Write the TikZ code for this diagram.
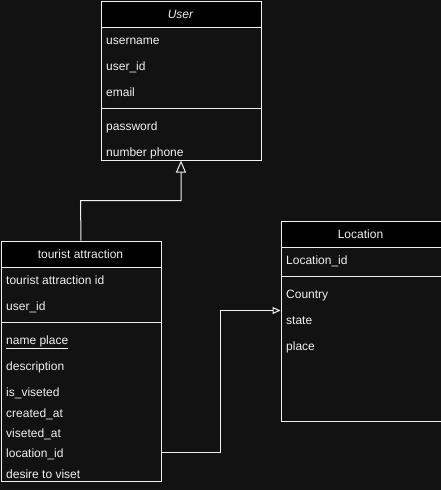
\documentclass[tikz,border=0pt]{standalone}
\usepackage{fontspec}
\setmainfont{Liberation Sans}
\usetikzlibrary{arrows.meta}
\definecolor{bg}{HTML}{121212}
\definecolor{fg}{HTML}{F0F0F0}
\begin{document}
\begin{tikzpicture}[x=1pt,y=-1pt,
  every node/.style={font=\fontsize{12}{14}\selectfont, text=fg, inner sep=0pt},
  box/.style={draw=fg, line width=1pt, fill=bg, rectangle, anchor=north west, minimum width=160pt},
  head/.style={draw=fg, line width=1pt, fill=black, rectangle, anchor=north west, minimum width=160pt, minimum height=26pt},
  htext/.style={anchor=base},
  item/.style={anchor=base west},
  sep/.style={draw=fg, line width=1pt},
  conn/.style={draw=fg, line width=1pt},
  bigtri/.style={-{Triangle[open, length=12pt, width=10pt, fill=bg]}},
  smalltri/.style={-{Triangle[open, length=8pt, width=7pt, fill=bg]}}]
\fill[bg] (0,0) rectangle (441,490);
\useasboundingbox (0,0) rectangle (441,490);

% User
\node[box, minimum height=159pt] (user) at (100.5,0.5) {};
\node[head] (userh) at (100.5,0.5) {};
\node[htext] (usert) at (180.5,18) {\itshape User};
\node[item] (u1) at (106,44) {username};
\node[item] (u2) at (106,70) {user\_id};
\node[item] (u3) at (106,96) {email};
\draw[sep] (user.west |- 0,108) -- (user.east |- 0,108);
\node[item] (u4) at (106,130) {password};
\node[item] (u5) at (106,156) {number phone};

% Tourist attraction
\node[box, minimum height=240pt] (ta) at (0.5,240.5) {};
\node[head] (tah) at (0.5,240.5) {};
\node[htext] (tat) at (80.5,258) {tourist attraction};
\node[item] (t1) at (6,284) {tourist attraction id};
\node[item] (t2) at (6,310) {user\_id};
\draw[sep] (ta.west |- 0,322.5) -- (ta.east |- 0,322.5);
\node[item] (t3) at (6,344) {\underline{name place}};
\node[item] (t4) at (6,370) {description};
\node[item] (t5) at (6,396) {is\_viseted};
\node[item] (t6) at (6,417) {created\_at};
\node[item] (t7) at (6,437) {viseted\_at};
\node[item] (t8) at (6,457) {location\_id};
\node[item] (t9) at (6,478) {desire to viset};

% Location
\node[box, minimum height=200pt] (loc) at (280.5,220.5) {};
\node[head] (loch) at (280.5,220.5) {};
\node[htext] (loct) at (360.5,238) {Location};
\node[item] (l1) at (286,264) {Location\_id};
\draw[sep] (loc.west |- 0,276.5) -- (loc.east |- 0,276.5);
\node[item] (l2) at (286,298) {Country};
\node[item] (l3) at (286,324) {state};
\node[item] (l4) at (286,350) {place};

% connectors
\coordinate (c1) at (80.5,200.5);
\draw[conn, bigtri] (ta.north) -- (c1) -| (user.south);
\coordinate (c2) at (160.5,452.5);
\coordinate (c3) at (220.5,310.5);
\draw[conn, smalltri] (c2) -| (c3) -- (loc.west |- c3);
\end{tikzpicture}
\end{document}
